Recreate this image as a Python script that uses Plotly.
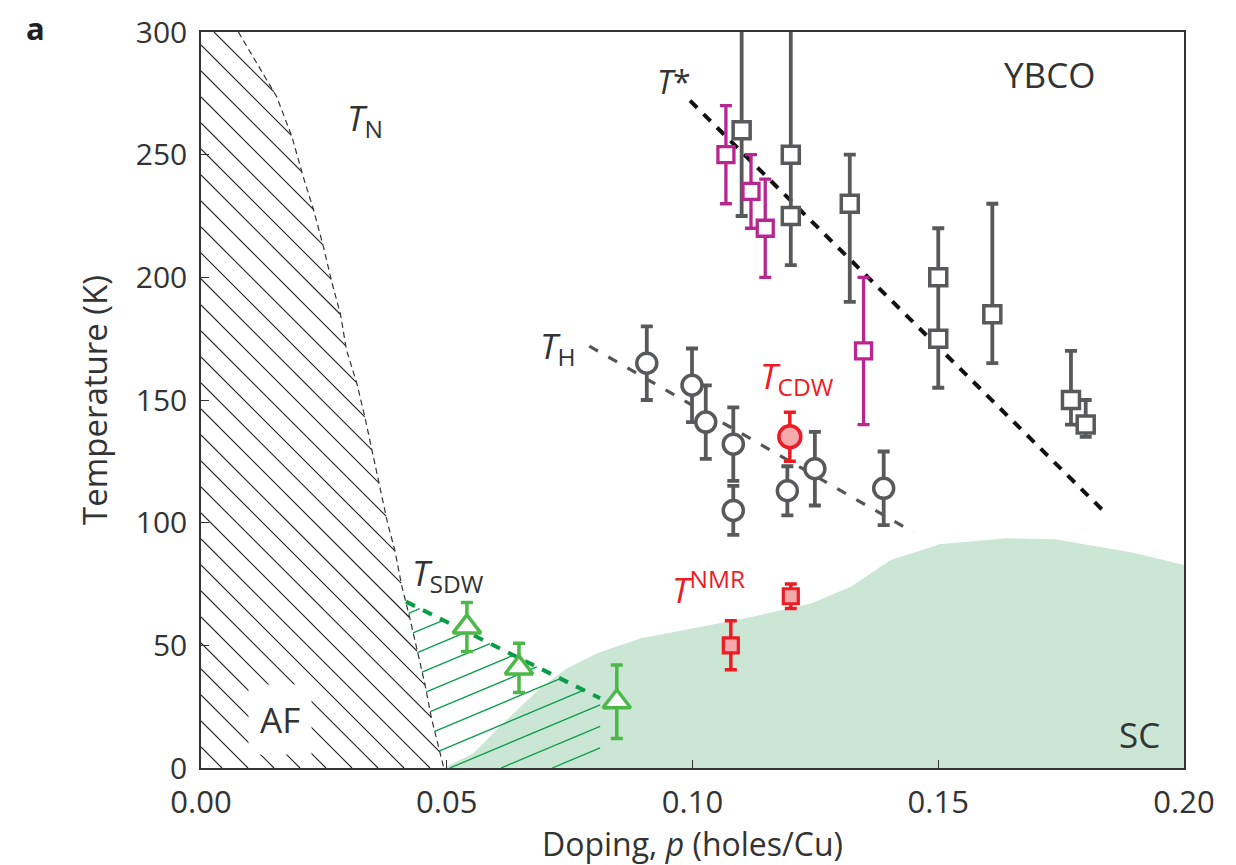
import numpy as np
import plotly.graph_objects as go

# ---------------- data ----------------
# T* (gray open squares)
gs_p = [0.110, 0.120, 0.120, 0.132, 0.150, 0.150, 0.161, 0.177, 0.180]
gs_T = [260, 250, 225, 230, 200, 175, 185, 150, 140]
gs_plus = [60, 60, 0, 20, 20, 0, 45, 20, 10]
gs_minus = [35, 25, 20, 40, 25, 20, 20, 10, 5]

# T* (magenta open squares)
mg_p = [0.1068, 0.1119, 0.1148, 0.1348]
mg_T = [250, 235, 220, 170]
mg_err = [20, 15, 20, 30]

# T_H (gray open circles)
gc_p = [0.0907, 0.0999, 0.1027, 0.1083, 0.1083, 0.1193, 0.1249, 0.1389]
gc_T = [165, 156, 141, 132, 105, 113, 122, 114]
gc_err = [15, 15, 15, 15, 10, 10, 15, 15]

# T_CDW (red filled circle)
cdw_p = [0.1198]
cdw_T = [135]
cdw_err = [10]

# T^NMR (red filled squares)
nmr_p = [0.1078, 0.1200]
nmr_T = [50, 70]
nmr_err = [10, 5]

# T_SDW (green open triangles)
sdw_p = [0.0541, 0.0647, 0.0846]
sdw_T = [57.5, 40.8, 27]
sdw_err = [10, 10, 15]

# guide lines
tstar_p = [0.0995, 0.184]
tstar_T = [272, 104]
th_p = [0.079, 0.145]
th_T = [172, 96]
sdwline_p = [0.0417, 0.0812]
sdwline_T = [67.8, 28.4]

# T_N boundary
tn_p = [0.0076, 0.0154, 0.0185, 0.0208, 0.0230, 0.0249, 0.0266, 0.0284, 0.0296,
        0.0317, 0.0334, 0.0349, 0.0364, 0.0379, 0.0395, 0.0408, 0.0425, 0.0439,
        0.0456, 0.0469, 0.0494]
tn_T = [300, 273.6, 257.3, 241, 226.8, 212.5, 198.2, 184.7, 170.4, 156.8, 142.5,
        128.3, 114.7, 100.4, 88.2, 74.6, 61, 48.1, 33.8, 20.2, 0]

# SC dome
sc_p = [0.0494, 0.0554, 0.0629, 0.0690, 0.0744, 0.0805, 0.0893, 0.1108, 0.1240,
        0.1322, 0.1403, 0.1505, 0.1641, 0.1738, 0.1902, 0.2000]
sc_T = [0, 6, 21, 32.5, 40.6, 46.7, 52.8, 61, 67, 73.9, 84.8, 91.3, 93.6, 93.2,
        87.5, 82.7]

x_ticks = [0.00, 0.05, 0.10, 0.15, 0.20]
y_ticks = [0, 50, 100, 150, 200, 250, 300]

# ---------------- styling ----------------
FONT = "'Open Sans', Lato, sans-serif"
TXT = "#333333"
GRAY = "#58595b"
MAG = "#b8268f"
RED = "#ed1c24"
PINK = "#f4a9ab"
GREEN = "#4cb848"
DGREEN = "#0a9d48"
SCFILL = "#cce6d6"

W, H = 1236, 865
ML, MR, MT, MB = 193, 60, 24, 105
PW, PH = W - ML - MR, H - MT - MB
XR, YR = (0.0, 0.2), (0.0, 300.0)
sx = PW / (XR[1] - XR[0])
sy = PH / (YR[1] - YR[0])


def hatch(poly_p, poly_T, slope_px, spacing_px, phase_px=0.0):
    """Clip a family of parallel lines (pixel slope) to a polygon."""
    X = np.asarray(poly_p) * sx
    Y = np.asarray(poly_T) * sy
    n = len(X)
    f = Y - slope_px * X
    c0 = np.floor((f.min() - phase_px) / spacing_px) * spacing_px + phase_px
    out_p, out_T = [], []
    c = c0
    while c <= f.max():
        pts = []
        for i in range(n):
            j = (i + 1) % n
            fa, fb = f[i] - c, f[j] - c
            if (fa > 0) != (fb > 0):
                t = fa / (fa - fb)
                pts.append((X[i] + t * (X[j] - X[i]), Y[i] + t * (Y[j] - Y[i])))
        pts.sort()
        for k in range(0, len(pts) - 1, 2):
            out_p += [pts[k][0] / sx, pts[k + 1][0] / sx, None]
            out_T += [pts[k][1] / sy, pts[k + 1][1] / sy, None]
        c += spacing_px
    return out_p, out_T


fig = go.Figure()

# SC dome
fig.add_trace(go.Scatter(x=sc_p + [0.2], y=sc_T + [0], fill="toself",
                         fillcolor=SCFILL, line=dict(width=0), mode="lines",
                         hoverinfo="skip"))

# AF hatch (black, "\")
af_poly_p = [0.0, 0.0] + tn_p
af_poly_T = [0.0, 300.0] + tn_T
hp, hT = hatch(af_poly_p, af_poly_T, -1.0, 26.0, phase_px=294.7 * sy)
fig.add_trace(go.Scatter(x=hp, y=hT, mode="lines",
                         line=dict(color="#231f20", width=1.1), hoverinfo="skip"))

# SDW hatch (green, "/")
tn_T_arr = np.array(tn_T)
tn_p_arr = np.array(tn_p)
top_p = float(np.interp(sdwline_T[0], tn_T_arr[::-1], tn_p_arr[::-1]))
mask = tn_T_arr < sdwline_T[0]
g_poly_p = [top_p] + list(tn_p_arr[mask]) + [sdwline_p[1], sdwline_p[1]]
g_poly_T = [sdwline_T[0]] + list(tn_T_arr[mask]) + [0.0, sdwline_T[1]]
gp, gT = hatch(g_poly_p, g_poly_T, 0.42, 21.5, phase_px=3.0)
fig.add_trace(go.Scatter(x=gp, y=gT, mode="lines",
                         line=dict(color=DGREEN, width=1.3), hoverinfo="skip"))

# T_N dashed boundary
fig.add_trace(go.Scatter(x=tn_p, y=tn_T, mode="lines",
                         line=dict(color="#333333", width=1.2, dash="6px,4px"),
                         hoverinfo="skip"))

# guide lines
fig.add_trace(go.Scatter(x=tstar_p, y=tstar_T, mode="lines",
                         line=dict(color="#111111", width=4, dash="10px,9px")))
fig.add_trace(go.Scatter(x=th_p, y=th_T, mode="lines",
                         line=dict(color="#555555", width=3.2, dash="10px,12px")))
fig.add_trace(go.Scatter(x=sdwline_p, y=sdwline_T, mode="lines",
                         line=dict(color=DGREEN, width=4, dash="10px,9px")))


def pts(px, pT, plus, minus, color, symbol, size, fill, lw, ethick):
    fig.add_trace(go.Scatter(
        x=px, y=pT, mode="markers",
        marker=dict(symbol=symbol, size=size, color=fill,
                    line=dict(color=color, width=lw)),
        error_y=dict(type="data", symmetric=False, array=plus, arrayminus=minus,
                     color=color, thickness=ethick, width=6),
    ))


pts(gs_p, gs_T, gs_plus, gs_minus, GRAY, "square", 17, "white", 3.5, 3.8)
pts(mg_p, mg_T, mg_err, mg_err, MAG, "square", 16, "white", 3.3, 3.3)
pts(gc_p, gc_T, gc_err, gc_err, GRAY, "circle", 20, "white", 3.5, 3.8)
pts(cdw_p, cdw_T, cdw_err, cdw_err, RED, "circle", 22, PINK, 3.5, 3.5)
pts(nmr_p, nmr_T, nmr_err, nmr_err, RED, "square", 15, PINK, 3.2, 3.5)
pts(sdw_p, sdw_T, sdw_err, sdw_err, GREEN, "triangle-up", 24, "white", 3.5, 3.5)

# ---------------- annotations ----------------
LBL = 35
ann = [
    dict(x=0.0334, y=264.5, text="<i>T</i><sub>N</sub>", color=TXT, size=LBL),
    dict(x=0.1727, y=282.5, text="YBCO", color=TXT, size=LBL),
    dict(x=0.0962, y=280, text="<i>T</i>*", color=TXT, size=32),
    dict(x=0.0726, y=171.6, text="<i>T</i><sub>H</sub>", color=TXT, size=LBL),
    dict(x=0.1213, y=159, text="<i>T</i><sub>CDW</sub>", color=RED, size=LBL),
    dict(x=0.1032, y=73.4, text="<i>T</i><sup>NMR</sup>", color=RED, size=LBL),
    dict(x=0.0503, y=79, text="<i>T</i><sub>SDW</sub>", color=TXT, size=LBL),
    dict(x=0.1910, y=13.5, text="SC", color=TXT, size=LBL),
]
for a in ann:
    fig.add_annotation(x=a["x"], y=a["y"], xref="x", yref="y", text=a["text"],
                       showarrow=False, xanchor="center", yanchor="middle",
                       font=dict(family=FONT, size=a["size"], color=a["color"]))

fig.add_annotation(x=0.0161, y=19.6, xref="x", yref="y", text="AF",
                   showarrow=False, xanchor="center", yanchor="middle",
                   bgcolor="white", borderpad=11,
                   font=dict(family=FONT, size=LBL, color=TXT))

fig.add_annotation(x=(35 - 8 - ML) / PW, y=(H - MB - 28 + 8) / PH,
                   xref="paper", yref="paper",
                   text="<b>a</b>", showarrow=False, xanchor="center",
                   yanchor="middle",
                   font=dict(family=FONT, size=31, color="#231f20"))

axis_common = dict(
    showline=True, linecolor="#333333", linewidth=1.5, mirror=True,
    ticks="inside", ticklen=8, tickwidth=1.3, tickcolor="#333333",
    showgrid=False, zeroline=False,
)

fig.update_layout(
    width=W, height=H,
    margin=dict(l=ML, r=MR, t=MT, b=MB),
    paper_bgcolor="white", plot_bgcolor="white",
    showlegend=False,
    font=dict(family=FONT, color=TXT),
    xaxis=dict(range=list(XR), tickvals=x_ticks,
               ticktext=[f"{v:.2f}" for v in x_ticks],
               tickfont=dict(family=FONT, size=31, color=TXT),
               title=dict(text="Doping, <i>p</i> (holes/Cu)",
                          font=dict(family=FONT, size=32, color=TXT), standoff=6),
               ticklabelstandoff=6, automargin=False, **axis_common),
    yaxis=dict(range=list(YR), tickvals=y_ticks,
               ticktext=[str(v) for v in y_ticks],
               tickfont=dict(family=FONT, size=30, color=TXT),
               title=dict(text="Temperature (K)",
                          font=dict(family=FONT, size=33, color=TXT), standoff=18),
               ticklabelstandoff=6, automargin=False,
               **axis_common),
)

fig.write_html("out.html")
